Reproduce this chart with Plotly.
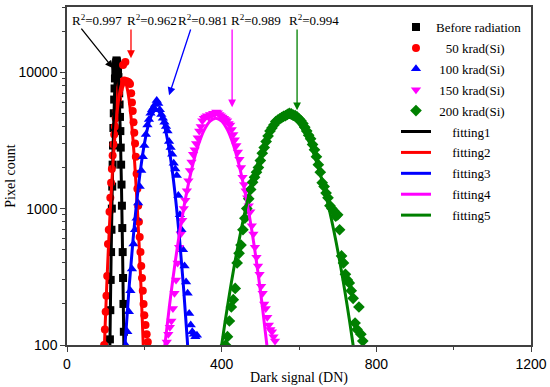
import plotly.graph_objects as go

# ---------------- data ----------------
before_x = list(range(111, 148))
before_y = [110, 180, 300, 480, 700, 1000, 1450, 2100, 2900, 3900, 5000, 6300, 7600, 9000, 10200,
            11200, 11800, 12200, 12000, 11600, 11000, 10200, 9200, 8100, 7000, 5800, 4700, 3700,
            2800, 2100, 1500, 1050, 720, 480, 310, 200, 125]

k50_x = [96, 98, 100, 102, 104, 106, 108, 110, 112, 114, 116, 118, 120, 122, 124, 126, 128, 130,
         132, 134, 136, 138, 140, 142, 145, 148, 151, 154, 157, 160, 163, 166, 168, 170, 172, 174,
         176, 178, 180, 182, 184, 186, 188, 190, 192, 194, 196, 198, 200, 203, 206, 209]
k50_y = [100, 130, 175, 230, 320, 550, 700, 950, 1200, 1550, 1950, 2450, 2950, 3500, 4000, 4600,
         5200, 5800, 6400, 7000, 7500, 7900, 8200, 8500, 11300, 8700, 11900, 8600, 8500, 8400, 8200,
         7000, 6000, 5200, 4300, 3600, 3000, 2400, 1800, 1400, 1050, 800, 620, 480, 380, 310, 250,
         200, 165, 140, 120, 105]

k100_x = list(range(152, 337, 4))
k100_y = [100, 125, 175, 250, 360, 550, 700, 850, 1100, 1450, 1900, 2400, 2900, 3500, 4100, 4500,
          5000, 5300, 5500, 5800, 6200, 5900, 5300, 4900, 4600, 4300, 4000, 3700, 3100, 2800, 2500,
          2150, 1950, 1750, 1250, 900, 700, 500, 380, 290, 240, 170, 140, 125, 120, 115, 118]

k150_x = list(range(258, 539, 4))
k150_y = [105, 120, 135, 150, 185, 240, 300, 400, 520, 650, 820, 1000, 1150, 1350, 1600, 1900,
          2200, 2500, 2700, 3000, 3300, 3700, 4000, 4400, 4600, 4700, 4800, 4700, 4900, 4850, 5000,
          4950, 5100, 5050, 4900, 4800, 4700, 4600, 4500, 4400, 4200, 4100, 3800, 3500, 3200, 2900,
          2600, 2300, 2000, 1700, 1500, 1350, 1200, 1050, 950, 750, 650, 520, 440, 380, 330, 270,
          240, 200, 185, 160, 140, 130, 125, 115, 107]

k200_x = list(range(410, 766, 5))
k200_y = [100, 115, 150, 190, 215, 260, 400, 470, 540, 700, 850, 1000, 1180, 1380, 1560, 1700,
          1850, 2000, 2250, 2550, 2800, 3100, 3400, 3700, 3900, 4100, 4350, 4450, 4550, 4650, 4750,
          4800, 4900, 5000, 4950, 4850, 4800, 4700, 4550, 4400, 4200, 3950, 3700, 3450, 3250, 2950,
          2700, 2400, 2100, 1850, 1550, 1450, 1300, 1200, 1050, 1000, 960, 880, 900, 700, 450, 400,
          330, 300, 285, 250, 220, 145, 130, 190, 120, 107]

fit1_x = [109, 111, 114, 117, 120, 123, 126, 129, 132, 135, 138, 141, 144, 147, 149]
fit1_y = [33, 100, 427, 1400, 3510, 6790, 10080, 11500, 10080, 6790, 3510, 1400, 427, 100, 33]

fit2_x = [95, 99, 103, 107, 111, 115, 119, 123, 127, 131, 135, 139, 143, 147, 151, 155, 159, 163,
          167, 171, 175, 179, 183, 187, 191, 195, 199]
fit2_y = [72, 146, 281, 510, 874, 1420, 2170, 3130, 4280, 5530, 6740, 7770, 8460, 8700, 8460, 7770,
          6740, 5530, 4280, 3130, 2170, 1420, 874, 510, 281, 146, 72]

fit3_x = [141, 151, 161, 171, 181, 191, 201, 211, 221, 231, 241, 251, 261, 271, 281, 291, 301, 311, 321]
fit3_y = [39, 110, 273, 600, 1170, 2015, 3075, 4160, 4990, 5300, 4990, 4160, 3075, 2015, 1170, 600,
          273, 110, 39]

fit4_x = [235, 250, 265, 280, 295, 310, 325, 340, 355, 370, 385, 400, 415, 430, 445, 460, 475, 490,
          505, 520, 535]
fit4_y = [33, 84, 194, 408, 776, 1337, 2085, 2947, 3775, 4380, 4600, 4380, 3775, 2947, 2085, 1337,
          776, 408, 194, 84, 33]

fit5_x = [390, 410, 430, 450, 470, 490, 510, 530, 550, 570, 590, 610, 630, 650, 670, 690, 710, 730, 750]
fit5_y = [63, 155, 346, 691, 1240, 2003, 2909, 3797, 4456, 4700, 4456, 3797, 2909, 2003, 1240, 691,
          346, 155, 63]

series_names = ["Before radiation", "\u00a0\u00a0\u00a050 krad(Si)", "\u00a0100 krad(Si)",
                "\u00a0150 krad(Si)", "\u00a0200 krad(Si)"]
fit_names = ["\u00a0\u00a0\u00a0\u00a0\u00a0fitting1", "\u00a0\u00a0\u00a0\u00a0\u00a0fitting2",
             "\u00a0\u00a0\u00a0\u00a0\u00a0fitting3", "\u00a0\u00a0\u00a0\u00a0\u00a0fitting4",
             "\u00a0\u00a0\u00a0\u00a0\u00a0fitting5"]
r2_labels = ["0.997", "0.962", "0.981", "0.989", "0.994"]
r2_text_x = [77, 221, 352, 488, 638]
arrow_tail = [(34, 4.331), (165.5, 4.324), (321, 4.324), (427, 4.324), (595, 4.324)]
arrow_tip = [(119, 4.029), (165.5, 4.103), (264, 3.831), (427, 3.743), (595, 3.721)]

colors = ["#000000", "#ff0000", "#0000ff", "#ff00ff", "#008000"]
symbols = ["square", "circle", "triangle-up", "triangle-down", "diamond"]
msizes = [8, 8, 9, 9, 9]

data_x = [before_x, k50_x, k100_x, k150_x, k200_x]
data_y = [before_y, k50_y, k100_y, k150_y, k200_y]
fits_x = [fit1_x, fit2_x, fit3_x, fit4_x, fit5_x]
fits_y = [fit1_y, fit2_y, fit3_y, fit4_y, fit5_y]

fig = go.Figure()
for i in range(5):
    fig.add_trace(go.Scatter(x=data_x[i], y=data_y[i], mode="markers", name=series_names[i],
                             legendgroup="s%d" % i,
                             marker=dict(symbol=symbols[i], size=msizes[i], color=colors[i],
                                         line=dict(width=0))))
for i in range(5):
    fig.add_trace(go.Scatter(x=fits_x[i], y=fits_y[i], mode="lines", name=fit_names[i],
                             legendgroup="f%d" % i,
                             line=dict(color=colors[i], width=3, shape="spline")))

annotations = []
for i in range(5):
    annotations.append(dict(x=r2_text_x[i], y=4.382, xref="x", yref="y",
                            text="R<sup>2</sup>=" + r2_labels[i], showarrow=False,
                            font=dict(family="Liberation Serif", size=13, color="black")))
    annotations.append(dict(x=arrow_tip[i][0], y=arrow_tip[i][1], xref="x", yref="y",
                            ax=arrow_tail[i][0], ay=arrow_tail[i][1], axref="x", ayref="y",
                            text="", showarrow=True, arrowhead=2, arrowsize=1.2,
                            arrowwidth=1.3, arrowcolor=colors[i], standoff=0, startstandoff=0))

axis_color = "#404040"
fig.update_layout(
    width=550, height=387,
    margin=dict(l=67, r=19, t=7, b=42),
    paper_bgcolor="white", plot_bgcolor="white",
    showlegend=True,
    legend=dict(x=0.709, y=0.985, xanchor="left", yanchor="top", bgcolor="rgba(0,0,0,0)",
                font=dict(family="Liberation Serif", size=13, color="black"),
                tracegroupgap=1, itemwidth=30),
    annotations=annotations,
    xaxis=dict(range=[0, 1200], dtick=400, tick0=0, showgrid=False, zeroline=False,
               automargin=False,
               showline=True, linecolor=axis_color, linewidth=1.5, mirror=True,
               ticks="outside", ticklen=5, tickwidth=1.2, tickcolor=axis_color,
               minor=dict(dtick=200, ticks="outside", ticklen=3, tickcolor=axis_color, showgrid=False),
               tickfont=dict(family="Liberation Sans", size=14, color="black"),
               title=dict(text="Dark signal (DN)", standoff=2,
                          font=dict(family="Liberation Serif", size=14, color="black"))),
    yaxis=dict(type="log", range=[2, 4.478], tickvals=[100, 1000, 10000],
               ticktext=["100", "1000", "10000"], showgrid=False, zeroline=False,
               automargin=False,
               showline=True, linecolor=axis_color, linewidth=1.5, mirror=True,
               ticks="outside", ticklen=5, tickwidth=1.2, tickcolor=axis_color,
               minor=dict(dtick="D1", ticks="outside", ticklen=3, tickcolor=axis_color, showgrid=False),
               tickfont=dict(family="Liberation Sans", size=14, color="black"),
               title=dict(text="Pixel count", standoff=0,
                          font=dict(family="Liberation Serif", size=14, color="black"))),
)

fig.write_html("out.html", config={"displayModeBar": False},
               post_script="document.body.style.margin='0';document.body.style.padding='0';")
